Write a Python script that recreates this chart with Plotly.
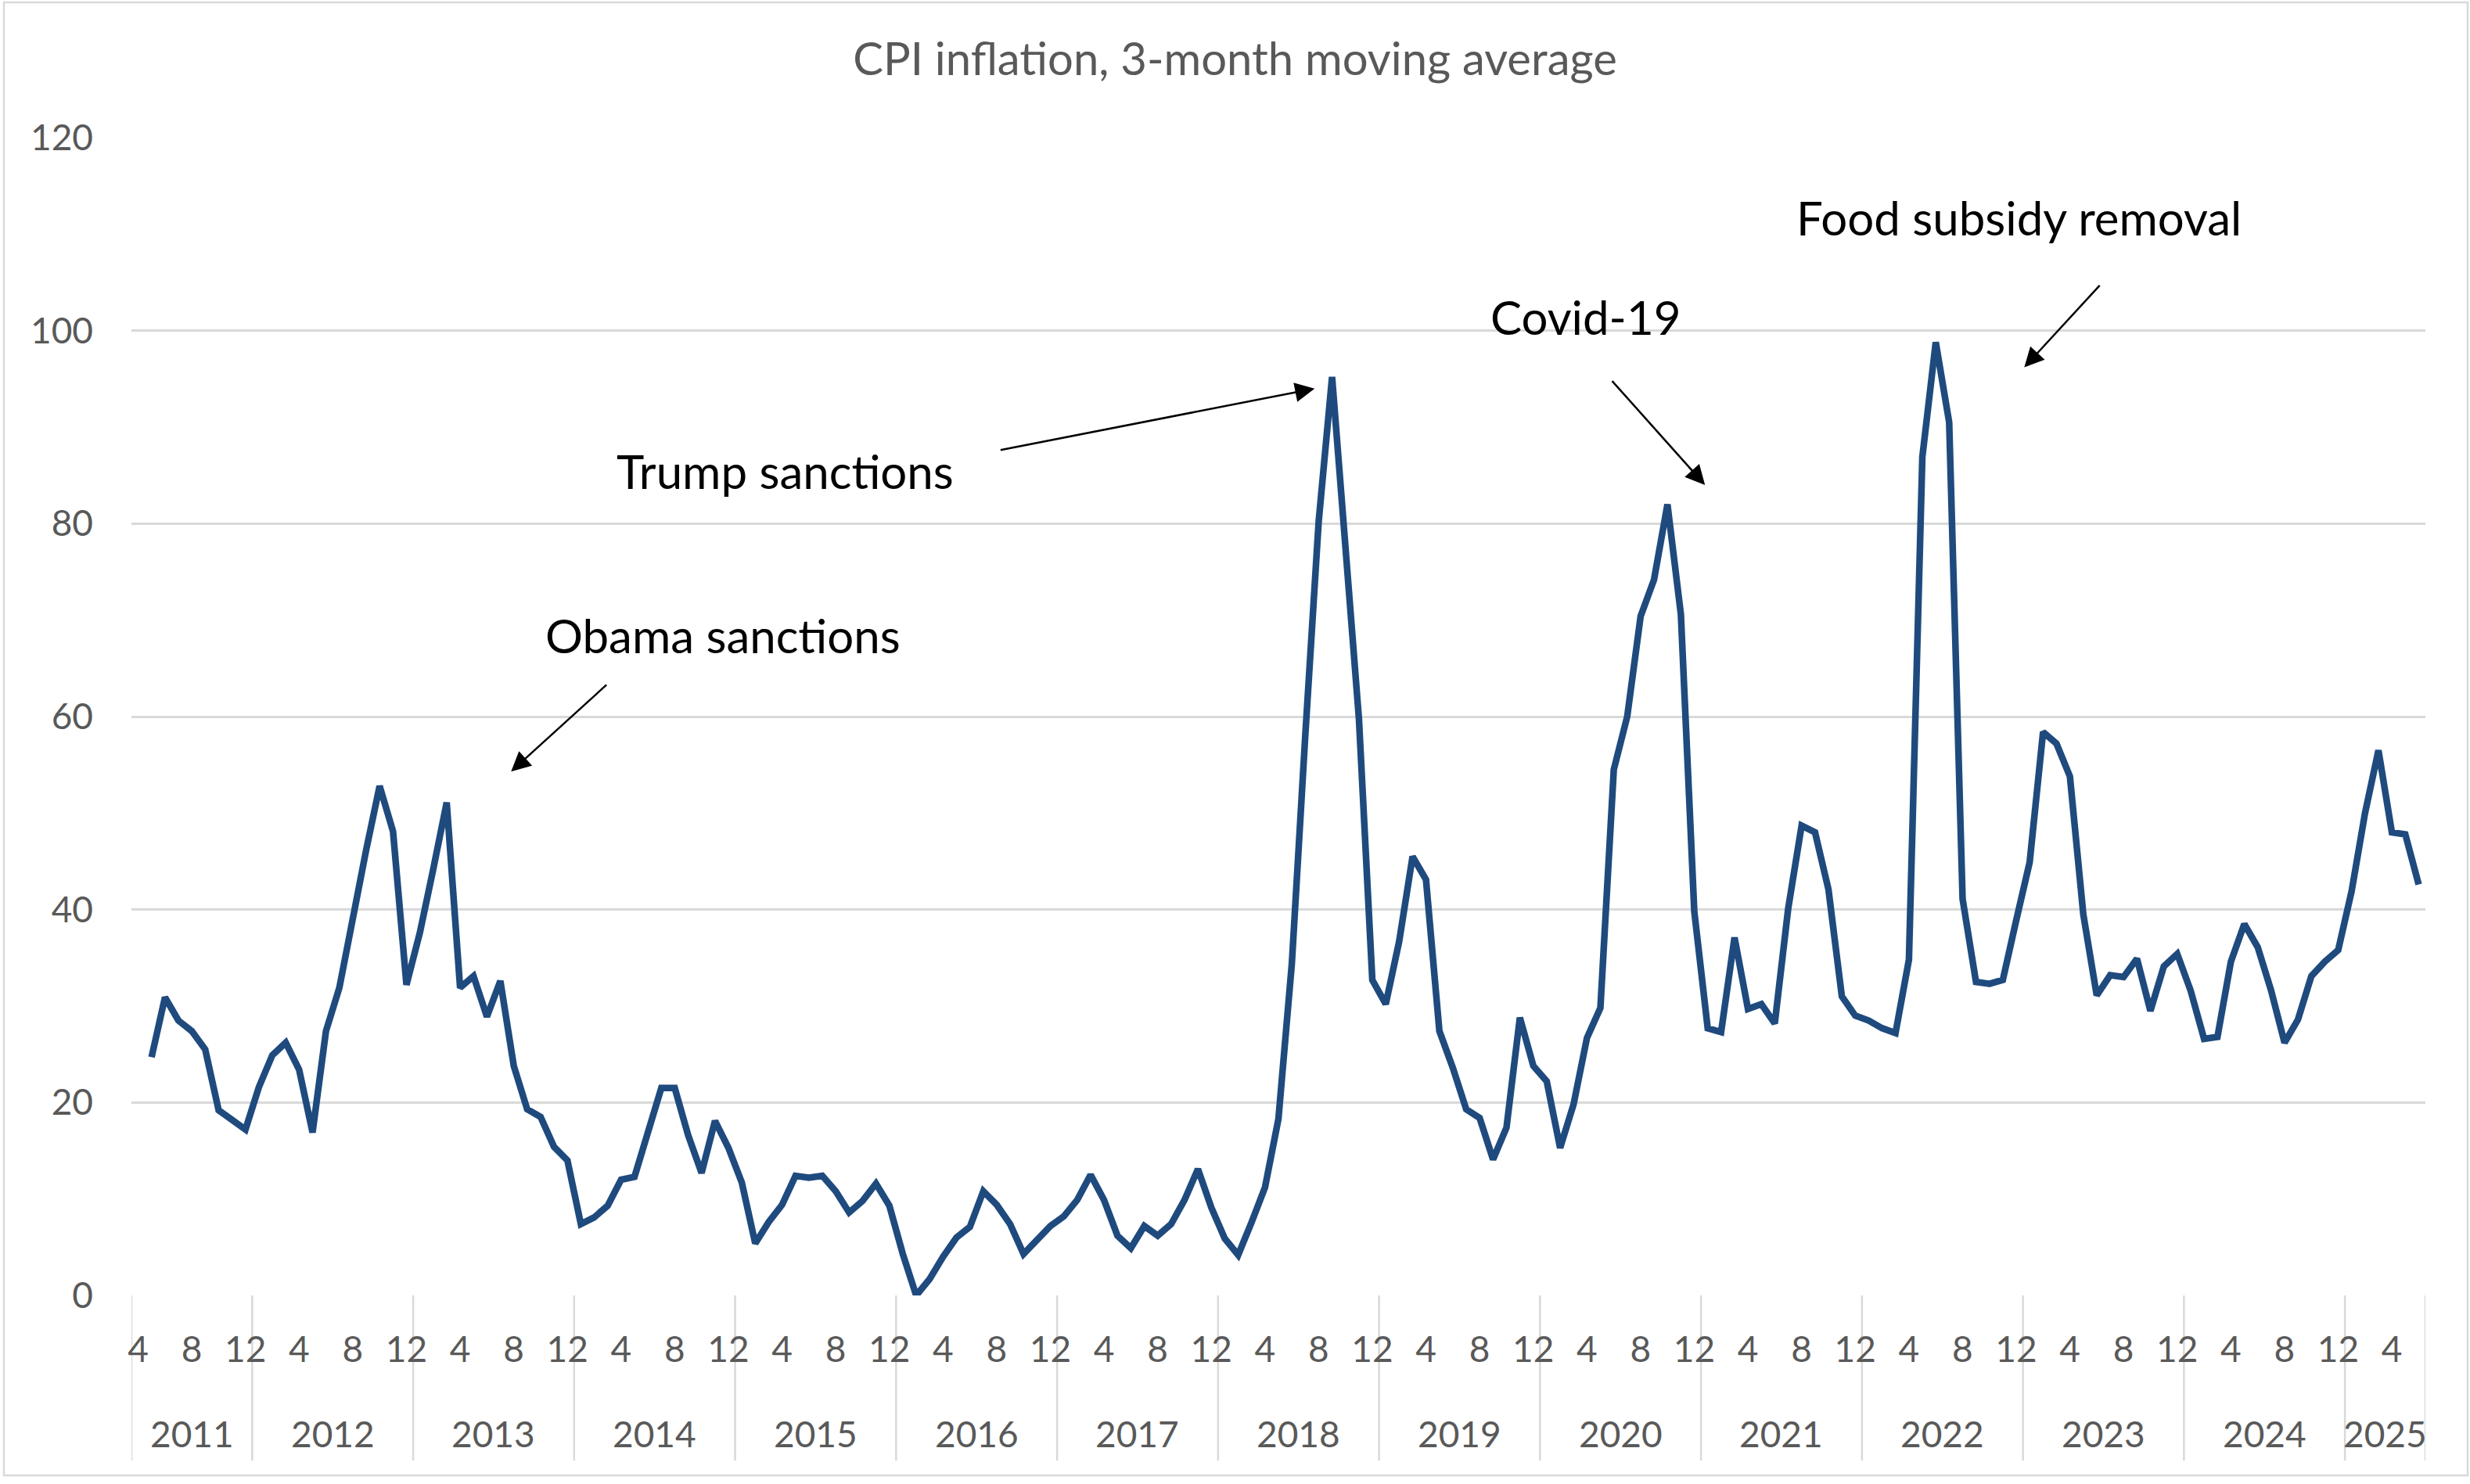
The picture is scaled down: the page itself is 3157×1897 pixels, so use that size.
import plotly.graph_objects as go

# ---------------- data ----------------
start_year, start_month = 2011, 4
end_year, end_month = 2025, 6

# CPI inflation, 3-month moving average (first category has no value)
inflation = [
    None,
    24.7, 30.9, 28.5, 27.4, 25.5, 19.2, 18.2, 17.2,                     # 2011 May-Dec
    21.6, 24.9, 26.2, 23.4, 16.9, 27.4, 31.9, 39.5, 46.2, 52.8, 48.1, 32.2,  # 2012
    37.6, 44.2, 51.1, 31.9, 33.1, 28.9, 32.6, 23.8, 19.3, 18.5, 15.4, 14.0,  # 2013
    7.4, 8.1, 9.3, 12.0, 12.3, 16.9, 21.5, 21.5, 16.6, 12.7, 18.1, 15.3,     # 2014
    11.7, 5.4, 7.6, 9.4, 12.4, 12.2, 12.4, 10.8, 8.6, 9.8, 11.6, 9.3,        # 2015
    4.3, 0.0, 1.7, 4.0, 6.0, 7.1, 10.8, 9.4, 7.4, 4.3, 5.8, 7.2,             # 2016
    8.2, 9.9, 12.5, 9.9, 6.2, 4.9, 7.2, 6.2, 7.4, 9.9, 13.1, 9.1,            # 2017
    5.9, 4.2, 7.6, 11.2, 18.3, 34.4, 58.0, 80.2, 95.2, 77.5, 59.8, 32.7,     # 2018
    30.2, 36.7, 45.5, 43.1, 27.4, 23.6, 19.3, 18.4, 14.1, 17.4, 28.8, 23.8,  # 2019
    22.2, 15.3, 19.8, 26.7, 29.8, 54.5, 60.0, 70.4, 74.2, 82.0, 70.6, 39.8,  # 2020
    27.7, 27.3, 37.1, 29.7, 30.2, 28.2, 40.1, 48.7, 48.0, 42.1, 31.0, 29.0,  # 2021
    28.5, 27.7, 27.2, 34.8, 86.9, 98.8, 90.5, 41.1, 32.5, 32.3, 32.7, 38.9,  # 2022
    44.9, 58.4, 57.2, 53.8, 39.5, 31.1, 33.2, 33.0, 34.9, 29.5, 34.1, 35.4,  # 2023
    31.6, 26.6, 26.8, 34.6, 38.5, 36.1, 31.6, 26.2, 28.6, 33.1, 34.6, 35.8,  # 2024
    41.9, 50.0, 56.5, 48.0, 47.8, 42.6,                                      # 2025 Jan-Jun
]

labelled_months = [4, 8, 12]
y_ticks = [0, 20, 40, 60, 80, 100, 120]

chart_title = "CPI inflation, 3-month moving average"
event_labels = ["Obama sanctions", "Trump sanctions", "Covid-19", "Food subsidy removal"]
# label position (category index, value)
event_label_pos = [(43.6, 68.4), (48.2, 85.5), (107.9, 101.4), (140.2, 111.7)]
# arrow tail and head (category index, value)
event_arrow_tail = [(35.0, 63.4), (64.2, 87.6), (109.8, 94.9), (146.3, 104.8)]
event_arrow_head = [(27.8, 54.3), (87.7, 94.0), (116.8, 84.0), (140.6, 96.2)]

# ---------------- categories ----------------
cat_year, cat_month = [], []
yy, mm = start_year, start_month
while (yy, mm) <= (end_year, end_month):
    cat_year.append(yy)
    cat_month.append(mm)
    mm += 1
    if mm > 12:
        mm = 1
        yy += 1
idx = list(range(len(cat_year)))
n = len(idx)

# ---------------- figure ----------------
W, H = 3157, 1897
ML, MR, MT, MB = 168, 57, 176, 241
PW, PH = W - ML - MR, H - MT - MB

FONT = "Lato"
GREY_TXT = "#595959"
GRID = "#d9d9d9"

fig = go.Figure()
fig.add_trace(go.Scatter(
    x=idx, y=inflation, mode="lines",
    line=dict(color="#1F4A7E", width=8.5),
    connectgaps=False, hoverinfo="skip", showlegend=False,
))

tickvals = [i for i in idx if cat_month[i] in labelled_months]
ticktext = [str(cat_month[i]) for i in tickvals]

fig.update_layout(
    width=W, height=H, autosize=False,
    margin=dict(l=ML, r=MR, t=MT, b=MB),
    paper_bgcolor="white", plot_bgcolor="white",
    font=dict(family=FONT, color=GREY_TXT, size=46),
    title=dict(text=chart_title, x=0.5, xref="container", xanchor="center",
               y=1 - 76 / H, yref="container", yanchor="middle",
               font=dict(family=FONT, size=58, color=GREY_TXT)),
    showlegend=False,
)

fig.update_xaxes(
    range=[-0.5, n - 0.5], tickmode="array", tickvals=tickvals, ticktext=ticktext,
    showgrid=False, zeroline=False, showline=False, ticks="",
    ticklabelstandoff=38, tickfont=dict(size=46, color=GREY_TXT, family=FONT),
    fixedrange=True,
)
fig.update_yaxes(
    range=[0, 120], tickvals=y_ticks, showgrid=True, gridcolor=GRID, gridwidth=2.5,
    zeroline=False, showline=False, ticks="",
    ticklabelstandoff=48, tickfont=dict(size=46, color=GREY_TXT, family=FONT),
    fixedrange=True,
)

# year separators and year labels
bottom_sep = -(1867 - (H - MB)) / PH
year_label_y = -(1832 - (H - MB)) / PH
years = sorted(set(cat_year))
boundaries = []
for yv in years:
    members = [i for i in idx if cat_year[i] == yv]
    boundaries.append(members[0] - 0.5)
    fig.add_annotation(x=(members[0] + members[-1]) / 2, y=year_label_y,
                       xref="x", yref="paper", text=str(yv), showarrow=False,
                       xanchor="center", yanchor="middle",
                       font=dict(size=46, color=GREY_TXT, family=FONT))
boundaries.append(n - 0.5)
for b in boundaries:
    fig.add_shape(type="line", xref="x", yref="paper", x0=b, x1=b, y0=0, y1=bottom_sep,
                  line=dict(color=GRID, width=2.5), layer="below")

# chart border
fig.add_shape(type="rect", xref="paper", yref="paper",
              x0=(5 - ML) / PW, x1=(3154 - ML) / PW,
              y0=-(1886 - (H - MB)) / PH, y1=((H - MB) - 3) / PH,
              line=dict(color=GRID, width=2.5), fillcolor="rgba(0,0,0,0)", layer="below")

# event annotations
for txt, (lx, ly), (tx, ty), (hx, hy) in zip(event_labels, event_label_pos,
                                             event_arrow_tail, event_arrow_head):
    fig.add_annotation(x=lx, y=ly, xref="x", yref="y", text=txt, showarrow=False,
                       xanchor="center", yanchor="middle",
                       font=dict(size=60, color="black", family=FONT))
    fig.add_annotation(x=hx, y=hy, ax=tx, ay=ty, xref="x", yref="y",
                       axref="x", ayref="y", text="", showarrow=True,
                       arrowhead=2, arrowsize=2.0, arrowwidth=2.5, arrowcolor="black")

fig.write_html(
    "out.html",
    config={"displayModeBar": False},
    post_script="document.body.style.margin='0px';document.body.style.overflow='hidden';",
)
